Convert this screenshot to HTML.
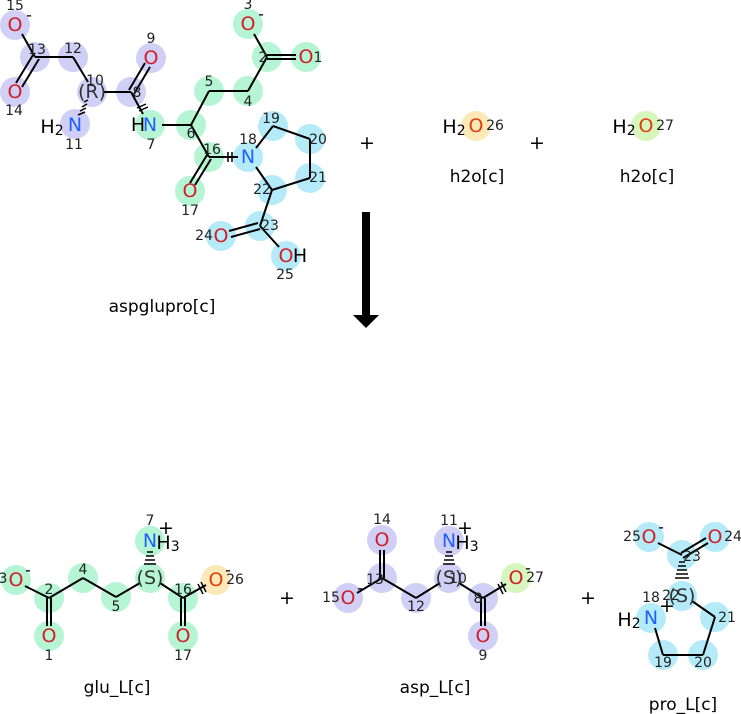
<!DOCTYPE html>
<html><head><meta charset="utf-8"><style>
body{margin:0;background:#fff}
svg{display:block;font-family:"DejaVu Sans","Liberation Sans",sans-serif}
.b{stroke:#000;stroke-width:2;fill:none}
.a{font-size:19px;text-anchor:middle;dominant-baseline:central}
.i{font-size:14px;fill:#222;text-anchor:middle;dominant-baseline:central}
.l{font-size:17px;text-anchor:middle;fill:#000}
.O{fill:#d0202a}.N{fill:#2060ff}
.p{fill:#d0d0f7}.g{fill:#b5f5d3}.c{fill:#b5ebf8}
</style></head><body>
<svg width="741" height="714" viewBox="0 0 741 714">
<g class="p">
<circle cx="15" cy="25" r="15"/><circle cx="35" cy="57" r="15"/><circle cx="15" cy="92" r="15"/><circle cx="73" cy="57" r="15"/><circle cx="92" cy="92" r="15"/><circle cx="131" cy="92" r="15"/><circle cx="151" cy="58" r="15"/><circle cx="75" cy="124" r="15"/>
</g>
<g class="g">
<circle cx="150" cy="125" r="15"/><circle cx="191" cy="125" r="15"/><circle cx="209" cy="91" r="15"/><circle cx="248" cy="91" r="15"/><circle cx="267" cy="57" r="15"/><circle cx="248" cy="24" r="15"/><circle cx="306" cy="57" r="15"/><circle cx="209" cy="157" r="15"/><circle cx="190" cy="191" r="15"/>
</g>
<g class="c">
<circle cx="248" cy="157" r="15"/><circle cx="273" cy="126" r="15"/><circle cx="310" cy="139" r="15"/><circle cx="310" cy="178" r="15"/><circle cx="272" cy="190" r="15"/><circle cx="260" cy="226" r="15"/><circle cx="221" cy="236" r="15"/><circle cx="286" cy="256" r="15"/>
</g>
<g class="b">
<line x1="22" y1="34" x2="35" y2="57"/><line x1="35" y1="57" x2="73" y2="57"/>
<line x1="33" y1="55" x2="16" y2="83"/><line x1="39" y1="59" x2="22" y2="87"/>
<line x1="73" y1="57" x2="88" y2="82"/><line x1="104" y1="92" x2="131" y2="92"/>
<line x1="129" y1="90" x2="145" y2="63"/><line x1="134" y1="94" x2="150" y2="67"/>
<line x1="131" y1="92" x2="143" y2="114"/>
<line x1="162" y1="125" x2="191" y2="125"/><line x1="191" y1="125" x2="209" y2="91"/><line x1="209" y1="91" x2="248" y2="91"/><line x1="248" y1="91" x2="267" y2="57"/>
<line x1="267" y1="57" x2="254" y2="34"/><line x1="267" y1="55" x2="296" y2="55"/><line x1="267" y1="59" x2="296" y2="59"/>
<line x1="191" y1="125" x2="209" y2="157"/><line x1="209" y1="157" x2="238" y2="157"/>
<line x1="207" y1="155" x2="190" y2="183"/><line x1="211" y1="159" x2="195" y2="185"/>
<line x1="256" y1="148" x2="273" y2="126"/><line x1="273" y1="126" x2="310" y2="139"/><line x1="310" y1="139" x2="310" y2="178"/><line x1="310" y1="178" x2="272" y2="190"/><line x1="272" y1="190" x2="256" y2="167"/>
<line x1="272" y1="190" x2="260" y2="226"/><line x1="260" y1="226" x2="279" y2="247"/>
<line x1="258" y1="223" x2="229" y2="231"/><line x1="260" y1="229" x2="231" y2="237"/>
</g>
<g stroke="#000" stroke-width="1.5">
<line x1="88" y1="100" x2="84" y2="102"/><line x1="87" y1="104" x2="82" y2="107"/><line x1="86" y1="108" x2="80" y2="111"/><line x1="85" y1="112" x2="78" y2="115"/>
<line x1="137" y1="108" x2="146" y2="104"/><line x1="139" y1="111" x2="148" y2="107"/>
<line x1="228" y1="152" x2="228" y2="162"/><line x1="232" y1="152" x2="232" y2="162"/>
</g>
<g class="a">
<text x="15" y="25" class="O">O</text><text x="15" y="92" class="O">O</text><text x="151" y="58" class="O">O</text>
<text x="75" y="125" class="N">N</text><text x="52" y="127">H<tspan font-size="14" dy="4">2</tspan></text>
<text x="150" y="125" class="N">N</text><text x="138" y="125">H</text>
<text x="92" y="92" fill="#333">(R)</text>
<text x="248" y="24" class="O">O</text><text x="306" y="57" class="O">O</text><text x="190" y="191" class="O">O</text>
<text x="248" y="157" class="N">N</text><text x="221" y="236" class="O">O</text><text x="286" y="256" class="O">O</text><text x="300" y="256">H</text>
<text x="29" y="15" font-size="16">-</text><text x="261" y="14" font-size="16">-</text>
</g>
<g class="i">
<text x="15" y="6">15</text><text x="37" y="50">13</text><text x="73" y="49">12</text><text x="14" y="111">14</text><text x="95" y="81">10</text><text x="137" y="93">8</text><text x="151" y="39">9</text><text x="74" y="145">11</text><text x="151" y="145">7</text>
<text x="191" y="134">6</text><text x="209" y="82">5</text><text x="248" y="102">4</text><text x="263" y="58">2</text><text x="248" y="5">3</text><text x="318" y="58">1</text><text x="212" y="150">16</text><text x="190" y="211">17</text>
<text x="248" y="140">18</text><text x="271" y="119">19</text><text x="318" y="140">20</text><text x="318" y="178">21</text><text x="262" y="190">22</text><text x="270" y="226">23</text><text x="204" y="236">24</text><text x="285" y="275">25</text>
</g>
<text x="162" y="312" class="l">aspglupro[c]</text>
<text x="367" y="149" class="a" font-size="26" style="dominant-baseline:auto">+</text>
<text x="537" y="149" class="a" font-size="26" style="dominant-baseline:auto">+</text>
<circle cx="476" cy="126" r="15" fill="#fde9b8"/><circle cx="646" cy="126" r="15" fill="#d7f6bd"/>
<g class="a"><text x="476" y="126" fill="#e04010">O</text><text x="454" y="127">H<tspan font-size="14" dy="4">2</tspan></text>
<text x="646" y="126" fill="#e04010">O</text><text x="624" y="127">H<tspan font-size="14" dy="4">2</tspan></text></g>
<g class="i"><text x="495" y="126">26</text><text x="665" y="126">27</text></g>
<text x="477" y="182" class="l">h2o[c]</text><text x="647" y="182" class="l">h2o[c]</text>
<rect x="362" y="212" width="8" height="104" fill="#000"/>
<polygon points="353,315 379,315 366,328" fill="#000"/>
<g class="g">
<circle cx="16" cy="580" r="15"/><circle cx="49" cy="598" r="15"/><circle cx="83" cy="578" r="15"/><circle cx="116" cy="597" r="15"/><circle cx="150" cy="578" r="15"/><circle cx="150" cy="541" r="15"/><circle cx="183" cy="598" r="15"/><circle cx="49" cy="636" r="15"/><circle cx="183" cy="636" r="15"/>
</g>
<circle cx="216" cy="580" r="15" fill="#fde9b8"/>
<g class="p">
<circle cx="348" cy="598" r="15"/><circle cx="382" cy="578" r="15"/><circle cx="382" cy="540" r="15"/><circle cx="416" cy="598" r="15"/><circle cx="449" cy="578" r="15"/><circle cx="449" cy="541" r="15"/><circle cx="483" cy="598" r="15"/><circle cx="483" cy="636" r="15"/>
</g>
<circle cx="516" cy="578" r="15" fill="#d7f6bd"/>
<g class="c">
<circle cx="649" cy="537" r="15"/><circle cx="715" cy="537" r="15"/><circle cx="682" cy="555" r="15"/><circle cx="682" cy="596" r="15"/><circle cx="651" cy="618" r="15"/><circle cx="715" cy="617" r="15"/><circle cx="663" cy="655" r="15"/><circle cx="703" cy="655" r="15"/>
</g>
<g class="b">
<line x1="25" y1="586" x2="49" y2="598"/><line x1="49" y1="598" x2="83" y2="578"/><line x1="83" y1="578" x2="116" y2="597"/><line x1="116" y1="597" x2="140" y2="583"/><line x1="160" y1="583" x2="183" y2="598"/><line x1="183" y1="598" x2="206" y2="585"/>
<line x1="47" y1="598" x2="47" y2="626"/><line x1="51" y1="598" x2="51" y2="626"/><line x1="181" y1="598" x2="181" y2="626"/><line x1="185" y1="598" x2="185" y2="626"/>
<line x1="357" y1="593" x2="382" y2="578"/><line x1="382" y1="578" x2="416" y2="598"/><line x1="416" y1="598" x2="440" y2="583"/><line x1="459" y1="583" x2="483" y2="598"/><line x1="483" y1="598" x2="506" y2="584"/>
<line x1="380" y1="578" x2="380" y2="550"/><line x1="384" y1="578" x2="384" y2="550"/><line x1="481" y1="598" x2="481" y2="626"/><line x1="485" y1="598" x2="485" y2="626"/>
<line x1="658" y1="543" x2="682" y2="555"/><line x1="681" y1="553" x2="706" y2="538"/><line x1="683" y1="558" x2="708" y2="543"/>
<line x1="692" y1="601" x2="715" y2="617"/><line x1="715" y1="617" x2="703" y2="655"/><line x1="703" y1="655" x2="663" y2="655"/><line x1="663" y1="655" x2="655" y2="628"/>
</g>
<g stroke="#000" stroke-width="1.5">
<line x1="147" y1="552" x2="153" y2="552"/><line x1="146" y1="556" x2="154" y2="556"/><line x1="145" y1="560" x2="155" y2="560"/><line x1="144" y1="564" x2="156" y2="564"/>
<line x1="446" y1="552" x2="452" y2="552"/><line x1="445" y1="556" x2="453" y2="556"/><line x1="444" y1="560" x2="454" y2="560"/><line x1="443" y1="564" x2="455" y2="564"/>
<line x1="679" y1="562" x2="685" y2="562"/><line x1="678" y1="566" x2="686" y2="566"/><line x1="677" y1="570" x2="687" y2="570"/><line x1="676" y1="574" x2="688" y2="574"/><line x1="675" y1="578" x2="689" y2="578"/>
<line x1="198" y1="584" x2="203" y2="594"/><line x1="201" y1="582" x2="206" y2="592"/>
<line x1="498" y1="584" x2="503" y2="594"/><line x1="501" y1="582" x2="506" y2="592"/>
</g>
<g class="a">
<text x="16" y="580" class="O">O</text><text x="49" y="636" class="O">O</text><text x="183" y="636" class="O">O</text><text x="216" y="580" fill="#e04010">O</text>
<text x="150" y="541" class="N">N</text><text x="168" y="543">H<tspan font-size="14" dy="4">3</tspan></text><text x="166" y="528">+</text>
<text x="150" y="578" fill="#333">(S)</text>
<text x="348" y="598" class="O">O</text><text x="382" y="540" class="O">O</text><text x="483" y="636" class="O">O</text><text x="516" y="578" class="O">O</text>
<text x="449" y="541" class="N">N</text><text x="467" y="543">H<tspan font-size="14" dy="4">3</tspan></text><text x="465" y="528">+</text>
<text x="449" y="578" fill="#333">(S)</text>
<text x="649" y="537" class="O">O</text><text x="715" y="537" class="O">O</text>
<text x="651" y="618" class="N">N</text><text x="629" y="620">H<tspan font-size="14" dy="4">2</tspan></text><text x="667" y="606">+</text>
<text x="682" y="596" fill="#333">(S)</text>
<text x="28" y="570" font-size="16">-</text><text x="228" y="570" font-size="16">-</text><text x="360" y="588" font-size="16">-</text><text x="528" y="568" font-size="16">-</text><text x="661" y="527" font-size="16">-</text>
</g>
<g class="i">
<text x="3" y="579">3</text><text x="49" y="590">2</text><text x="83" y="570">4</text><text x="116" y="607">5</text><text x="150" y="521">7</text><text x="183" y="590">16</text><text x="235" y="580">26</text><text x="49" y="656">1</text><text x="183" y="656">17</text>
<text x="331" y="598">15</text><text x="375" y="580">13</text><text x="382" y="520">14</text><text x="416" y="607">12</text><text x="458" y="579">10</text><text x="449" y="521">11</text><text x="478" y="599">8</text><text x="535" y="578">27</text><text x="483" y="656">9</text>
<text x="632" y="537">25</text><text x="733" y="537">24</text><text x="692" y="557">23</text><text x="671" y="596">22</text><text x="651" y="598">18</text><text x="727" y="618">21</text><text x="663" y="663">19</text><text x="703" y="663">20</text>
</g>
<text x="287" y="604" class="a" font-size="26" style="dominant-baseline:auto">+</text>
<text x="588" y="604" class="a" font-size="26" style="dominant-baseline:auto">+</text>
<text x="117" y="693" class="l">glu_L[c]</text>
<text x="435" y="693" class="l">asp_L[c]</text>
<text x="683" y="710" class="l">pro_L[c]</text>
</svg>
</body></html>
